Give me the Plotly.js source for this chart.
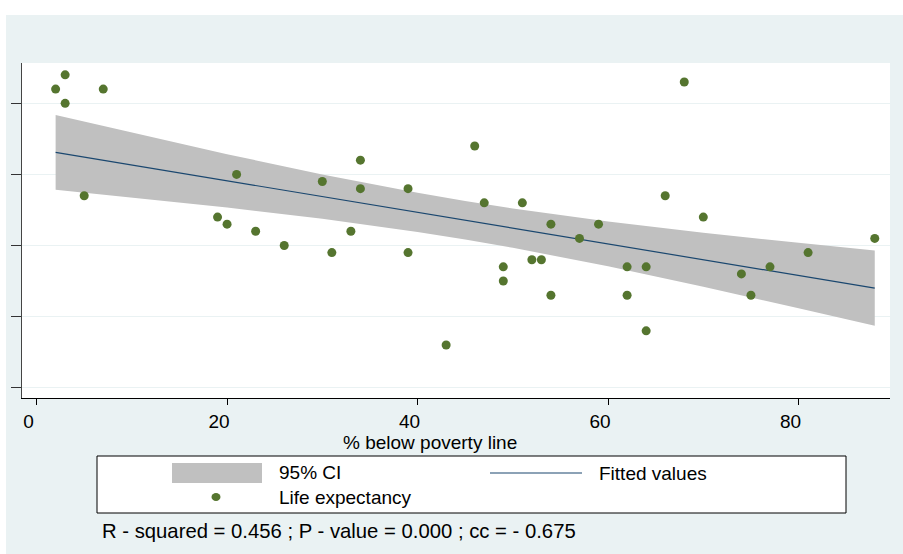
<!DOCTYPE html>
<html>
<head>
<meta charset="utf-8">
<script src="https://cdn.plot.ly/plotly-3.0.1.min.js"></script>
<style>
  html, body { margin: 0; padding: 0; background: #ffffff; }
  #chart { position: absolute; left: 6px; top: 15px; width: 897px; height: 539px; }
</style>
</head>
<body>
<div id="chart"></div>
<script>
// ---- data ----
const poverty = [3, 2, 7, 3, 5, 21, 19, 20, 23, 26, 30, 34, 34, 33, 31, 39, 39, 43, 46, 47, 51,
                 49, 49, 52, 53, 54, 54, 57, 59, 68, 66, 70, 62, 64, 62, 64, 74, 75, 77, 81, 88];
const lifeExpectancy = [74, 72, 72, 70, 57, 60, 54, 53, 52, 50, 59, 62, 58, 52, 49, 58, 49, 36, 64, 56, 56,
                        47, 45, 48, 48, 53, 43, 51, 53, 73, 57, 54, 47, 47, 43, 38, 46, 43, 47, 49, 51];
const fitX = [2, 88];
const fitY = [63.1, 44.0];
const ciX = [2, 10, 20, 30, 40, 45, 50, 60, 70, 80, 88];
const ciUpper = [68.35, 65.87, 62.85, 59.99, 57.41, 56.25, 55.20, 53.36, 51.78, 50.37, 49.30];
const ciLower = [57.85, 56.77, 55.35, 53.77, 51.91, 50.85, 49.68, 47.08, 44.20, 41.17, 38.70];
const xTicks = [0, 20, 40, 60, 80];
const yTicks = [30, 40, 50, 60, 70];
const legendLabels = ["95% CI", "Fitted values", "Life expectancy"];
const xTitle = "% below poverty line";
const noteText = "R - squared = 0.456 ; P - value = 0.000 ; cc = - 0.675";

// ---- styling ----
const FONT = 'Arial, "Liberation Sans", sans-serif';
const GREEN = '#55752f';
const NAVY = '#1a476f';
const CIGRAY = '#c0c0c0';
const BG = '#eaf2f3';

// plot area in page pixels (page = div offset by 6,15)
const PL = 22, PR = 890, PT = 63, PB = 398;
const px = X => (X - PL) / (PR - PL);
const py = Y => (PB - Y) / (PB - PT);

const traces = [
  { x: ciX, y: ciLower, type: 'scatter', mode: 'lines', line: { width: 0, color: CIGRAY }, hoverinfo: 'skip', showlegend: false },
  { x: ciX, y: ciUpper, type: 'scatter', mode: 'lines', fill: 'tonexty', fillcolor: CIGRAY,
    line: { width: 0, color: CIGRAY }, name: legendLabels[0], showlegend: false },
  { x: fitX, y: fitY, type: 'scatter', mode: 'lines', line: { color: NAVY, width: 1.2 }, name: legendLabels[1], showlegend: false },
  { x: poverty, y: lifeExpectancy, type: 'scatter', mode: 'markers',
    marker: { color: GREEN, size: 9 }, name: legendLabels[2], showlegend: false }
];

const shapes = [
  { type: 'rect', xref: 'paper', yref: 'paper', x0: px(97), x1: px(846), y0: py(513), y1: py(456),
    fillcolor: '#ffffff', line: { color: '#000000', width: 1 }, layer: 'above' },
  { type: 'rect', xref: 'paper', yref: 'paper', x0: px(172), x1: px(262), y0: py(483), y1: py(463),
    fillcolor: CIGRAY, line: { width: 0 }, layer: 'above' },
  { type: 'line', xref: 'paper', yref: 'paper', x0: px(490), x1: px(582), y0: py(473), y1: py(473),
    line: { color: NAVY, width: 1.2 }, layer: 'above' },
  { type: 'circle', xref: 'paper', yref: 'paper', x0: px(211.5), x1: px(220.5), y0: py(501), y1: py(493),
    fillcolor: GREEN, line: { width: 0 }, layer: 'above' }
];

const ann = (text, X, Y, anchor, size) => ({
  text: text, xref: 'paper', yref: 'paper', x: px(X), y: py(Y), xanchor: anchor || 'left', yanchor: 'middle',
  showarrow: false, font: { family: FONT, size: size || 19, color: '#000000' }
});

const annotations = [
  ann(xTitle, 430, 442, 'center'),
  ann(legendLabels[0], 277, 472),
  ann(legendLabels[1], 597, 473),
  ann(legendLabels[2], 277, 497),
  ann(noteText, 100, 531, 'left', 20.3)
];

const layout = {
  width: 897, height: 539,
  margin: { l: PL - 6, r: 903 - PR, t: PT - 15, b: 554 - PB, pad: 0 },
  paper_bgcolor: BG, plot_bgcolor: '#ffffff',
  showlegend: false,
  font: { family: FONT, size: 19, color: '#000000' },
  xaxis: {
    range: [-1.53, 89.6], tickvals: xTicks, ticktext: xTicks.map(String),
    ticks: 'outside', ticklen: 6, tickcolor: '#000000', tickwidth: 1,
    showline: true, linecolor: '#000000', linewidth: 1,
    showgrid: false, zeroline: false, ticklabelshift: -8,
    tickfont: { family: FONT, size: 19, color: '#000000' }
  },
  yaxis: {
    range: [28.55, 75.67], tickvals: yTicks,
    ticks: 'outside', ticklen: 10, tickcolor: '#333333', tickwidth: 1,
    showticklabels: false,
    showline: true, linecolor: '#444444', linewidth: 1.5,
    showgrid: true, gridcolor: BG, gridwidth: 1, zeroline: false
  },
  shapes: shapes,
  annotations: annotations
};

Plotly.newPlot('chart', traces, layout, { displayModeBar: false, staticPlot: true });
</script>
</body>
</html>
